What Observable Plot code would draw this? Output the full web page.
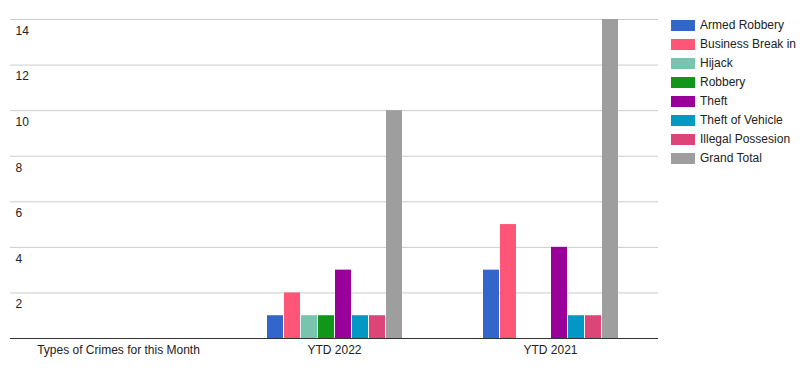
<!DOCTYPE html>
<html>
<head>
<meta charset="utf-8">
<script src="https://cdn.jsdelivr.net/npm/d3@7"></script>
<script src="https://cdn.jsdelivr.net/npm/@observablehq/plot@0.6"></script>
<style>
  html, body { margin: 0; padding: 0; background: #fff; }
  #wrap { position: relative; width: 800px; height: 381px; font-family: "Liberation Sans", Arial, sans-serif; }
  #legend { position: absolute; left: 671px; top: 15.5px; font-size: 12px; color: #222; }
  .row { display: flex; align-items: center; height: 19px; white-space: nowrap; }
  .sw { width: 24px; height: 11px; margin-right: 5px; flex: none; }
</style>
</head>
<body>
<div id="wrap"><div id="legend"></div></div>
<script>
const categories = ["Types of Crimes for this Month", "YTD 2022", "YTD 2021"];
const series = ["Armed Robbery", "Business Break in", "Hijack", "Robbery", "Theft", "Theft of Vehicle", "Illegal Possesion", "Grand Total"];
const colors = ["#3366cc", "#ff5577", "#78c4ae", "#109618", "#990099", "#0099c6", "#dd4477", "#9e9e9e"];
const thisMonth = [0, 0, 0, 0, 0, 0, 0, 0];
const ytd2022 = [1, 2, 1, 1, 3, 1, 1, 10];
const ytd2021 = [3, 5, 0, 0, 4, 1, 1, 14];
const yTicks = [2, 4, 6, 8, 10, 12, 14];

const seriesByCategory = [thisMonth, ytd2022, ytd2021];
const data = [];
categories.forEach((c, i) => series.forEach((s, j) => data.push({category: c, series: s, value: seriesByCategory[i][j]})));

const chart = Plot.plot({
  width: 800,
  height: 381,
  marginLeft: 10,
  marginRight: 142,
  marginTop: 19,
  marginBottom: 43,
  style: {fontFamily: "'Liberation Sans', Arial, sans-serif", fontSize: "12px", color: "#222", background: "white", overflow: "visible"},
  fx: {domain: categories, padding: 0, axis: null},
  x: {domain: series, paddingInner: 1 / 17, paddingOuter: 2.34, axis: null},
  y: {domain: [0, 14], axis: null},
  color: {domain: series, range: colors},
  marks: [
    Plot.ruleY(yTicks, {y: d => d, stroke: "#cccccc", strokeOpacity: 1}),
    Plot.text(yTicks, {fx: () => categories[0], y: d => d, text: d => String(d), frameAnchor: "left", textAnchor: "start", dx: 5, dy: 11.5, fill: "#222"}),
    Plot.barY(data.filter(d => d.value > 0), {fx: "category", x: "series", y: "value", fill: "series"}),
    Plot.ruleY([0], {stroke: "#333"}),
    Plot.text(categories, {fx: d => d, text: d => d, frameAnchor: "bottom", dy: 15.5, fill: "#222"})
  ]
});
document.getElementById("wrap").prepend(chart);

const legend = document.getElementById("legend");
series.forEach((s, i) => {
  const row = document.createElement("div");
  row.className = "row";
  const sw = document.createElement("div");
  sw.className = "sw";
  sw.style.background = colors[i];
  const lab = document.createElement("span");
  lab.textContent = s;
  row.append(sw, lab);
  legend.append(row);
});
</script>
</body>
</html>
